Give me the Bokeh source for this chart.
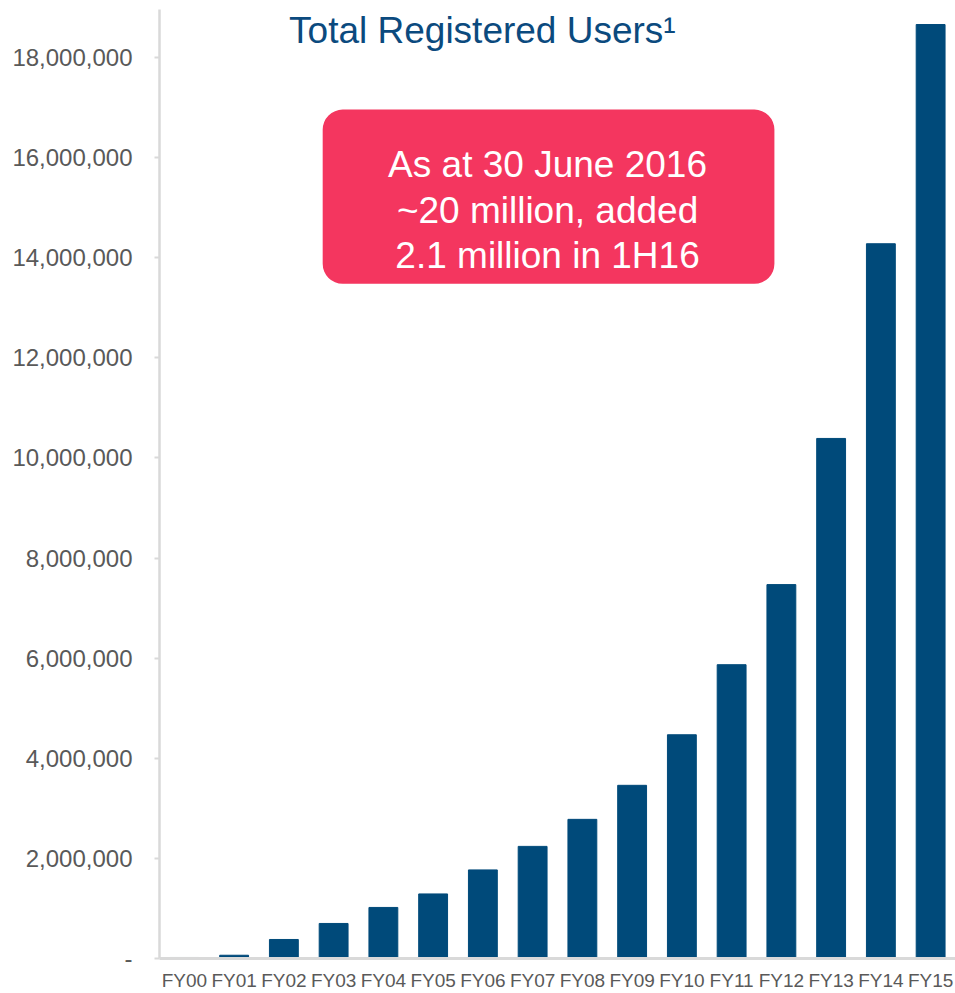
from bokeh.plotting import figure
from bokeh.models import (FixedTicker, CustomJSTickFormatter, Range1d, FactorRange,
                          BoxAnnotation, Label)
from bokeh.embed import file_html
from bokeh.resources import INLINE

# ---- data ----
categories = ["FY00", "FY01", "FY02", "FY03", "FY04", "FY05", "FY06", "FY07",
              "FY08", "FY09", "FY10", "FY11", "FY12", "FY13", "FY14", "FY15"]
registered_users = [20000, 65000, 380000, 700000, 1020000, 1290000, 1770000, 2240000,
                    2780000, 3460000, 4470000, 5870000, 7470000, 10390000, 14280000, 18660000]
y_ticks = [0, 2000000, 4000000, 6000000, 8000000, 10000000, 12000000, 14000000,
           16000000, 18000000]
title_text = "Total Registered Users\u00b9"
note_lines = ["As at 30 June 2016", "~20 million, added", "2.1 million in 1H16"]

FONT = "Liberation Sans"
BAR = "#004A7A"
GREY = "#595959"
AXIS = "#D9D9D9"
PINK = "#F4365F"
TITLE_COL = "#0B4A7E"

p = figure(x_range=FactorRange(*categories, range_padding=0),
           y_range=Range1d(0, 18960000),
           width=955, height=993, output_backend="svg", toolbar_location=None,
           min_border_left=159, min_border_right=0, min_border_top=9,
           min_border_bottom=35)
p.outline_line_color = None
p.background_fill_color = "white"
p.border_fill_color = "white"
p.xgrid.visible = False
p.ygrid.visible = False

p.vbar(x=categories, top=registered_users, width=0.58, color=BAR)

# y axis
p.yaxis.ticker = FixedTicker(ticks=y_ticks, minor_ticks=[])
p.yaxis.formatter = CustomJSTickFormatter(code="""
    if (tick == 0) { return "-"; }
    return Math.round(tick).toString().replace(/\\B(?=(\\d{3})+(?!\\d))/g, ",");
""")
p.yaxis.axis_line_color = AXIS
p.yaxis.axis_line_width = 2.5
p.yaxis.major_tick_line_color = AXIS
p.yaxis.major_tick_line_width = 2
p.yaxis.major_tick_out = 5
p.yaxis.major_tick_in = 0
p.yaxis.minor_tick_line_color = None
p.yaxis.major_label_text_font = FONT
p.yaxis.major_label_text_font_size = "24px"
p.yaxis.major_label_text_color = GREY
p.yaxis.major_label_standoff = 22

# x axis
p.xaxis.axis_line_color = AXIS
p.xaxis.axis_line_width = 3
p.xaxis.major_tick_line_color = None
p.xaxis.major_tick_out = 0
p.xaxis.major_tick_in = 0
p.xaxis.minor_tick_line_color = None
p.xaxis.major_label_text_font = FONT
p.xaxis.major_label_text_font_size = "19px"
p.xaxis.major_label_text_color = GREY
p.xaxis.major_label_standoff = 11

# title as a label
p.add_layout(Label(x=6.49, y=18540000, text=title_text, text_font=FONT,
                   text_font_size="37px", text_color=TITLE_COL,
                   text_align="center", text_baseline="alphabetic"))

# rounded callout box
p.add_layout(BoxAnnotation(left=3.28, right=12.36, top=16960000, bottom=13480000,
                           fill_color=PINK, fill_alpha=1.0, line_color=None,
                           border_radius=20))
for txt, yy in zip(note_lines, [15860000, 14940000, 14040000]):
    p.add_layout(Label(x=7.80, y=yy, text=txt, text_font=FONT,
                       text_font_size="37px", text_color="white",
                       text_align="center", text_baseline="alphabetic"))

open("out.html", "w").write(file_html(p, INLINE))
